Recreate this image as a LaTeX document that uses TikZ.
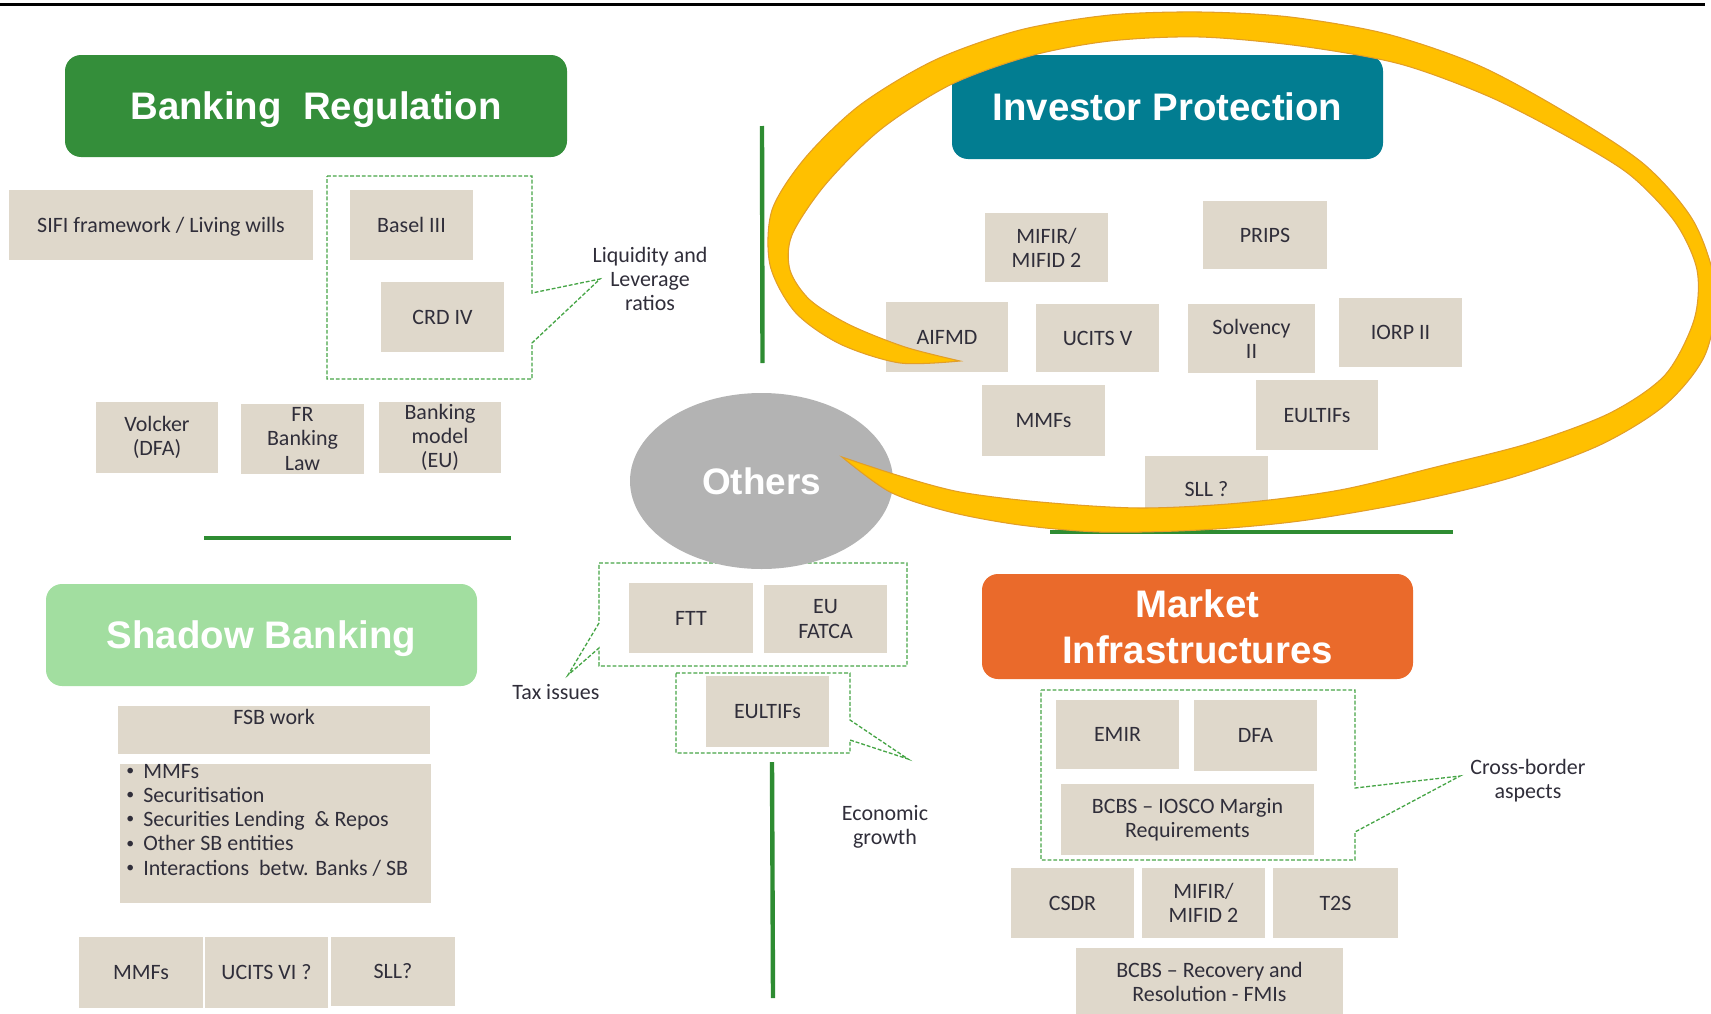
\documentclass[tikz,border=0pt]{standalone}
\usepackage{fontspec}
\setmainfont{Carlito}
\newfontfamily\headfont{Liberation Sans}
\usetikzlibrary{shapes.geometric}

\definecolor{bankgreen}{RGB}{52,142,58}
\definecolor{ipteal}{RGB}{2,125,145}
\definecolor{sbgreen}{RGB}{162,222,160}
\definecolor{mkorange}{RGB}{234,106,43}
\definecolor{othgray}{RGB}{179,179,179}
\definecolor{beige}{RGB}{223,216,203}
\definecolor{ink}{RGB}{48,46,58}
\definecolor{rulegreen}{RGB}{46,140,50}
\definecolor{dashgreen}{RGB}{70,165,70}
\definecolor{swoosh}{RGB}{255,192,0}
\definecolor{swooshedge}{RGB}{226,158,40}

\tikzset{
  pbx/.style={fill=beige, inner sep=0pt, align=center, text=ink,
    font=\fontsize{12.5}{13.7}\selectfont},
  pbx1/.style={pbx, text height=8.1pt, text depth=0pt},
  head/.style={rounded corners=0.32cm, inner sep=0pt, align=center, text=white,
    font=\headfont\bfseries\fontsize{21.85}{26.2}\selectfont},
  head1/.style={head, text height=15.6pt, text depth=0pt},
  note/.style={inner sep=0pt, align=center, text=ink,
    font=\fontsize{12.5}{13.7}\selectfont},
  sep/.style={draw=rulegreen, line width=2.5pt},
  callout/.style={draw=dashgreen, line width=0.75pt, dash pattern=on 2.2pt off 1.1pt},
}

% box given by its corners (x1,y1) (x2,y2) in pixel units
\newcommand\pbox[7][pbx]{%
  \node[#1, minimum width={(#5-#3)*0.02cm}, minimum height={(#6-#4)*0.02cm}]
    (#2) at ({(#3+#5)/2},{(#4+#6)/2}) {#7};}
% small bullet used in the shadow banking list
\newcommand\sbbullet{\hbox to 0.34cm{\raisebox{0.12em}{\fontsize{9}{9}\selectfont •}\hfil}}

\begin{document}
\begin{tikzpicture}[x=0.02cm, y=-0.02cm]
\useasboundingbox (0,0) rectangle (1711,1014);
\clip (0,0) rectangle (1711,1014);

% top rule
\draw[line width=1.4pt, black] (0,4.5) -- (1705,4.5);

% quadrant separators
\draw[sep] (762,126) -- (762.5,363);
\draw[sep] (204,538) -- (511,538);
\draw[sep] (1050,532) -- (1453,532);
\draw[sep] (772,762) -- (773,998);

% dashed callouts
\draw[callout] (327,176) -- (532,176) -- (532,293) -- (600,279) -- (532,343) -- (532,379) -- (327,379) -- cycle;
\draw[callout] (599,563) -- (907,563) -- (907,666) -- (599,666) -- (599,648) -- (568,675) -- (599,623) -- cycle;
\draw[callout] (676,673) -- (850,673) -- (850,720) -- (908,759) -- (850,740) -- (850,753) -- (676,753) -- cycle;
\draw[callout] (1041,690) -- (1355,690) -- (1355,788) -- (1460,776) -- (1355,832) -- (1355,860) -- (1041,860) -- cycle;

\node[note] (liq) at (650,279) {Liquidity and\\Leverage\\ratios};
\node[note] (tax) at (556,692) {Tax issues};
\node[note] (econ) at (885,827) {Economic\\growth};
\node[note] (xb) at (1528,781) {Cross-border\\aspects};

% headings
\pbox[head1, fill=bankgreen]{bankreg}{65}{55}{567}{157}{Banking~~Regulation}
\pbox[head1, fill=ipteal]{invprot}{952}{55}{1383}{159}{Investor Protection}
\pbox[head1, fill=sbgreen]{shadow}{46}{584}{477}{686}{Shadow Banking}
\pbox[head, fill=mkorange]{market}{982}{574}{1413}{679}{Market\\Infrastructures}

% banking regulation
\pbox[pbx1]{sifi}{9}{190}{313}{260}{SIFI framework / Living wills}
\pbox[pbx1]{basel}{350}{190}{473}{260}{Basel III}
\pbox[pbx1]{crd}{381}{282}{504}{352}{CRD IV}
\pbox{volcker}{96}{402}{218}{473}{Volcker\\(DFA)}
\pbox{frbl}{241}{404}{364}{474}{FR\\Banking\\Law}
\pbox{bmodel}{379}{402}{501}{473}{Banking\\model\\(EU)}

% investor protection
\pbox{ipmifir}{985}{213}{1108}{282}{MIFIR/\\MIFID 2}
\pbox[pbx1]{prips}{1203}{201}{1327}{269}{PRIPS}
\pbox[pbx1]{aifmd}{886}{302}{1008}{372}{AIFMD}
\pbox[pbx1]{ucits}{1036}{304}{1159}{372}{UCITS V}
\pbox{solv}{1188}{304}{1315}{373}{Solvency\\II}
\pbox[pbx1]{iorp}{1339}{298}{1462}{367}{IORP II}
\pbox[pbx1]{ipmmf}{982}{385}{1105}{456}{MMFs}
\pbox[pbx1]{ipeltif}{1256}{380}{1378}{450}{EULTIFs}
\pbox[pbx1]{ipsll}{1145}{456}{1268}{522}{SLL ?}

% others
\node[ellipse, fill=othgray, inner sep=0pt, minimum width=263*0.02cm, minimum height=176*0.02cm,
  text=white, font=\headfont\bfseries\fontsize{21}{25}\selectfont, text height=15pt, text depth=0pt]
  (others) at (761.5,481) {Others};
\pbox[pbx1]{ftt}{629}{583}{753}{653}{FTT}
\pbox{fatca}{764}{585}{887}{653}{EU\\FATCA}
\pbox[pbx1]{oeltif}{706}{676}{829}{747}{EULTIFs}

% market infrastructures
\pbox[pbx1]{emir}{1056}{700}{1179}{769}{EMIR}
\pbox[pbx1]{dfa}{1194}{700}{1317}{771}{DFA}
\pbox{margin}{1061}{784}{1314}{855}{BCBS – IOSCO Margin\\Requirements}
\pbox[pbx1]{csdr}{1011}{868}{1134}{938}{CSDR}
\pbox{mimifir}{1142}{868}{1265}{938}{MIFIR/\\MIFID 2}
\pbox[pbx1]{t2s}{1273}{868}{1398}{938}{T2S}
\pbox{recov}{1076}{948}{1343}{1016}{BCBS – Recovery and\\Resolution - FMIs}

% shadow banking
\pbox{fsb}{118}{706}{430}{754}{}
\node[note, text height=8.1pt, text depth=0pt] (fsbtxt) at (274,717) {FSB work};
\pbox{sblist}{120}{764}{431}{903}{}
\node[note, anchor=base west] (sb1) at (126,778) {\sbbullet MMFs};
\node[note, anchor=base west] (sb2) at (126,802.3) {\sbbullet Securitisation};
\node[note, anchor=base west] (sb3) at (126,826.6) {\sbbullet Securities Lending~~\& Repos};
\node[note, anchor=base west] (sb4) at (126,850.9) {\sbbullet Other SB entities};
\node[note, anchor=base west] (sb5) at (126,875.2) {\sbbullet Interactions~~betw. Banks / SB};
\pbox[pbx1]{sbmmf}{79}{937}{203}{1008}{MMFs}
\pbox[pbx1]{sbucits}{205}{937}{328}{1008}{UCITS VI ?}
\pbox[pbx1]{sbsll}{331}{937}{455}{1006}{SLL?}

% hand-drawn loop around investor protection
\filldraw[fill=swoosh, draw=swooshedge, line width=0.6pt]
  plot[smooth, tension=0.5] coordinates {
    (960,361) (900,363) (840,344) (795,312) (770,265) (772,210) (805,158)
    (860,105) (935,60) (1020,30) (1110,15) (1200,12) (1290,17) (1387,34)
    (1480,66) (1570,115) (1645,165) (1694,222) (1716,290) (1705,355)
    (1665,405) (1600,445) (1510,478) (1411,502) (1300,521) (1200,530)
    (1100,532) (1020,525) (950,512) (890,492) (842,457)}
  -- plot[smooth, tension=0.5] coordinates {
    (842,457) (900,476) (960,492) (1040,502) (1140,508) (1240,503) (1340,490)
    (1440,466) (1530,443) (1610,413) (1665,375) (1694,320) (1697,270)
    (1675,222) (1630,175) (1570,138) (1490,97) (1400,64) (1300,46) (1200,37)
    (1110,41) (1030,56) (950,85) (880,130) (825,185) (792,235) (790,270)
    (810,300) (850,325) (905,347) (960,361)}
  -- cycle;
\end{tikzpicture}
\end{document}
